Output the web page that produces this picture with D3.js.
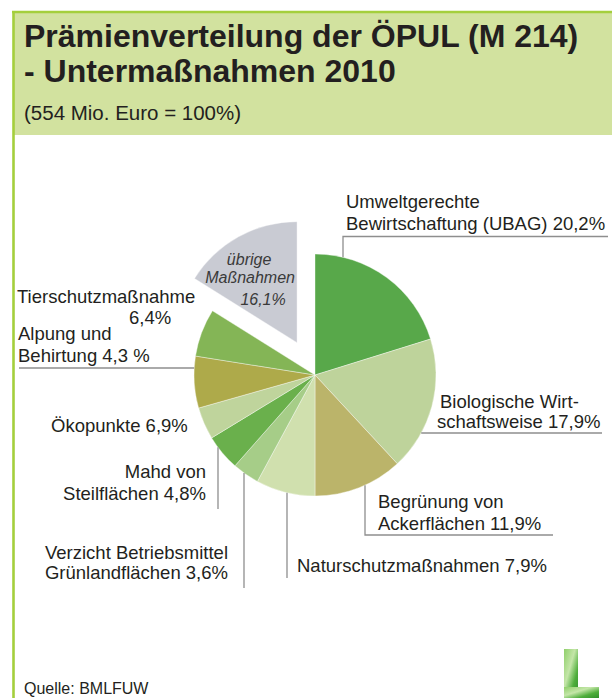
<!DOCTYPE html>
<html>
<head>
<meta charset="utf-8">
<script src="https://cdn.jsdelivr.net/npm/d3@7"></script>
<style>
  html, body { margin: 0; padding: 0; background: #fff; }
  svg { display: block; font-family: "Liberation Sans", Arial, sans-serif; }
</style>
</head>
<body>
<svg id="chart" width="612" height="698"></svg>
<script>
// Premium shares of the ÖPUL sub-measures 2010 (percent of 554 Mio. Euro), clockwise from 12 o'clock
const categories = [
  "Umweltgerechte Bewirtschaftung (UBAG)",
  "Biologische Wirtschaftsweise",
  "Begrünung von Ackerflächen",
  "Naturschutzmaßnahmen",
  "Verzicht Betriebsmittel Grünlandflächen",
  "Mahd von Steilflächen",
  "Alpung und Behirtung",
  "Ökopunkte",
  "Tierschutzmaßnahme",
  "übrige Maßnahmen"
];
const shares = [20.2, 17.9, 11.9, 7.9, 3.6, 4.8, 4.3, 6.9, 6.4, 16.1];
const sliceColors = ["#58a84a", "#bed39b", "#bbb46a", "#d0e0ae", "#a6cd88",
                     "#6ab04c", "#bfd49c", "#aeaa4a", "#84b556", "#c9cbd3"];
const shareLabels = ["20,2%", "17,9%", "11,9%", "7,9%", "3,6%", "4,8%", "4,3 %", "6,9%", "6,4%", "16,1%"];

const titleLines = ["Prämienverteilung der ÖPUL (M 214)", "- Untermaßnahmen 2010"];
const subtitle = "(554 Mio. Euro = 100%)";
const source = "Quelle: BMLFUW";

const svg = d3.select("#chart");
const W = 612, H = 698;
const ink = "#231f20";
const frameGreen = "#a4cf3c";

// ---- frame and title band ----
svg.append("rect").attr("x", 13).attr("y", 11).attr("width", W - 13).attr("height", 124)
  .attr("fill", "#d2e29f");
svg.append("line").attr("x1", 12).attr("x2", W).attr("y1", 12).attr("y2", 12)
  .attr("stroke", frameGreen).attr("stroke-width", 2.4);
svg.append("line").attr("x1", 13.5).attr("x2", 13.5).attr("y1", 11).attr("y2", H)
  .attr("stroke", frameGreen).attr("stroke-width", 2.6);

svg.selectAll("text.title").data(titleLines).join("text")
  .attr("class", "title")
  .attr("x", 24).attr("y", (d, i) => 47 + i * 35)
  .attr("font-size", 32).attr("font-weight", "bold").attr("fill", ink)
  .text(d => d);

svg.append("text").attr("x", 24).attr("y", 120)
  .attr("font-size", 20.5).attr("fill", ink).text(subtitle);

// ---- pie ----
const cx = 315, cy = 375, R = 121, explode = 37;
const pie = d3.pie().sort(null).value(d => d)(shares);
const arc = d3.arc().innerRadius(0).outerRadius(R);
const last = shares.length - 1;

const g = svg.append("g").attr("transform", `translate(${cx},${cy})`);
g.selectAll("path.slice").data(pie).join("path")
  .attr("class", "slice")
  .attr("transform", (d, i) => {
    if (i !== last) return null;
    const a = (d.startAngle + d.endAngle) / 2;
    return `translate(${explode * Math.sin(a)},${-explode * Math.cos(a)})`;
  })
  .attr("d", arc)
  .attr("fill", (d, i) => sliceColors[i])
  .attr("stroke", "#ffffff").attr("stroke-opacity", 0.55).attr("stroke-width", 0.7);

// label inside the separated slice
{
  const d = pie[last];
  const a = (d.startAngle + d.endAngle) / 2;
  const ox = cx + explode * Math.sin(a), oy = cy - explode * Math.cos(a);
  const t = svg.append("text").attr("font-style", "italic").attr("font-size", 16)
    .attr("fill", "#3a3a3a").attr("text-anchor", "middle");
  t.append("tspan").attr("x", ox - 48).attr("y", oy - 78).text("übrige");
  t.append("tspan").attr("x", ox - 47).attr("y", oy - 60).text("Maßnahmen");
  t.append("tspan").attr("x", ox - 34).attr("y", oy - 38).text(shareLabels[last]);
}

// ---- leader lines, each ending on the pie rim ----
const rimY = x => cy + Math.sqrt(R * R - (x - cx) * (x - cx)); // lower rim at x
const rimYTop = x => cy - Math.sqrt(R * R - (x - cx) * (x - cx));
const rimXRight = y => cx + Math.sqrt(R * R - (y - cy) * (y - cy));
const rimXLeft = y => cx - Math.sqrt(R * R - (y - cy) * (y - cy));

const leaders = [
  [[608, 236.5], [343, 236.5], [343, rimYTop(343)]],
  [[rimXRight(433), 433], [602, 433]],
  [[365, rimY(365)], [365, 535], [553, 535]],
  [[287, rimY(287)], [287, 578]],
  [[244, rimY(244)], [244, 588]],
  [[218, rimY(218)], [218, 509]],
  [[19, 368], [rimXLeft(368), 368]]
];
svg.selectAll("path.leader").data(leaders).join("path")
  .attr("class", "leader")
  .attr("d", d => d3.line()(d))
  .attr("fill", "none").attr("stroke", "#8e8e8e").attr("stroke-width", 1.3);

// ---- category labels ----
const labels = [
  { lines: ["Umweltgerechte", "Bewirtschaftung (UBAG) " + shareLabels[0]], x: 346, y: 208, anchor: "start", dy: 22 },
  { lines: ["Biologische Wirt-", "schaftsweise " + shareLabels[1]], x: [440, 437], y: 408, anchor: "start", dy: 19.5 },
  { lines: ["Begrünung von", "Ackerflächen " + shareLabels[2]], x: 378, y: 508, anchor: "start", dy: 22 },
  { lines: ["Naturschutzmaßnahmen " + shareLabels[3]], x: 297, y: 572, anchor: "start", dy: 22 },
  { lines: ["Verzicht Betriebsmittel", "Grünlandflächen " + shareLabels[4]], x: 228, y: 559, anchor: "end", dy: 19.5 },
  { lines: ["Mahd von", "Steilflächen " + shareLabels[5]], x: 206, y: 478, anchor: "end", dy: 22 },
  { lines: ["Alpung und", "Behirtung " + shareLabels[6]], x: 18, y: 340, anchor: "start", dy: 22 },
  { lines: ["Ökopunkte " + shareLabels[7]], x: 51, y: 432, anchor: "start", dy: 22 },
  { lines: ["Tierschutzmaßnahme", shareLabels[8]], x: [17, 129], y: 303, anchor: "start", dy: 21 }
];
labels.forEach(l => {
  const t = svg.append("text").attr("font-size", 18.5).attr("fill", ink)
    .attr("text-anchor", l.anchor);
  l.lines.forEach((s, i) => {
    t.append("tspan")
      .attr("x", Array.isArray(l.x) ? l.x[i] : l.x)
      .attr("y", l.y + i * l.dy)
      .text(s);
  });
});

// ---- source ----
svg.append("text").attr("x", 24).attr("y", 694).attr("font-size", 16).attr("fill", ink).text(source);

// ---- small grass-green mark, bottom right ----
const defs = svg.append("defs");
const grad = defs.append("linearGradient").attr("id", "grass")
  .attr("x1", 0).attr("y1", 0).attr("x2", 1).attr("y2", 1);
grad.append("stop").attr("offset", 0).attr("stop-color", "#8fcf6a");
grad.append("stop").attr("offset", 0.4).attr("stop-color", "#c4e6a8");
grad.append("stop").attr("offset", 0.7).attr("stop-color", "#4fae3c");
grad.append("stop").attr("offset", 1).attr("stop-color", "#2f8f2a");
const logo = svg.append("g");
logo.append("rect").attr("x", 564).attr("y", 649).attr("width", 14).attr("height", 49).attr("fill", "url(#grass)");
logo.append("rect").attr("x", 564).attr("y", 687).attr("width", 35).attr("height", 11).attr("fill", "url(#grass)");
</script>
</body>
</html>
